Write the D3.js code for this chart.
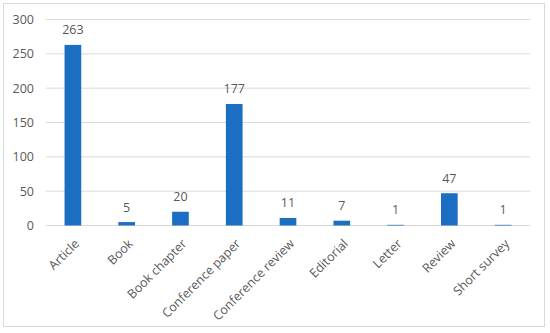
<!DOCTYPE html>
<html>
<head>
<meta charset="utf-8">
<script src="https://cdn.jsdelivr.net/npm/d3@7"></script>
<style>
  body { margin: 0; background: #fff; }
  text { font-family: "Open Sans", sans-serif; }
</style>
</head>
<body>
<div id="root"></div>
<script>
const categories = ["Article", "Book", "Book chapter", "Conference paper", "Conference review",
    "Editorial", "Letter", "Review", "Short survey"]
const counts = [263, 5, 20, 177, 11, 7, 1, 47, 1]
const yTicks = [0, 50, 100, 150, 200, 250, 300]

const w = 550, h = 333
const margin = {top: 19.5, right: 20, bottom: 107.5, left: 46}

const svg = d3.select("#root").append("svg")
    .attr("width", w)
    .attr("height", h)

// chart border
svg.append("rect")
    .attr("x", 3.5).attr("y", 3.5)
    .attr("width", 541).attr("height", 323)
    .attr("fill", "white")
    .attr("stroke", "#d9d9d9")

const x = d3.scaleBand()
    .domain(categories)
    .range([margin.left, w - margin.right])
    .paddingInner(0.69)
    .paddingOuter(0.345)

const y = d3.scaleLinear()
    .domain([0, 300])
    .range([h - margin.bottom, margin.top])

// gridlines
svg.append("g")
    .selectAll("line")
    .data(yTicks)
    .join("line")
    .attr("x1", margin.left)
    .attr("x2", w - margin.right)
    .attr("y1", d => y(d))
    .attr("y2", d => y(d))
    .attr("stroke", "#d9d9d9")
    .attr("stroke-width", 1)

// y axis labels
const yAxis = svg.append("g")
    .attr("transform", `translate(${margin.left - 12},0)`)
    .call(d3.axisLeft(y).tickValues(yTicks).tickSize(0).tickPadding(0))
yAxis.select(".domain").remove()
yAxis.selectAll("text")
    .attr("font-size", 12.5)
    .attr("font-family", "Open Sans")
    .attr("fill", "#595959")

// bars
svg.append("g")
    .selectAll("rect")
    .data(categories)
    .join("rect")
    .attr("x", d => x(d))
    .attr("width", x.bandwidth())
    .attr("y", (d, i) => y(counts[i]))
    .attr("height", (d, i) => y(0) - y(counts[i]))
    .attr("fill", "#1b6ec2")

// value labels
svg.append("g")
    .selectAll("text")
    .data(categories)
    .join("text")
    .attr("x", d => x(d) + x.bandwidth() / 2)
    .attr("y", (d, i) => y(counts[i]) - 10.5)
    .attr("text-anchor", "middle")
    .attr("font-size", 12.5)
    .attr("fill", "#595959")
    .text((d, i) => counts[i])

// x axis labels
const xAxis = svg.append("g")
    .attr("transform", `translate(0,${y(0)})`)
    .call(d3.axisBottom(x).tickSize(0).tickPadding(0))
xAxis.select(".domain").remove()
xAxis.selectAll("text")
    .attr("font-size", 12.5)
    .attr("font-family", "Open Sans")
    .attr("fill", "#595959")
    .attr("text-anchor", "end")
    .attr("dy", null)
    .attr("y", 0)
    .attr("transform", "translate(7,19) rotate(-45)")
</script>
</body>
</html>
